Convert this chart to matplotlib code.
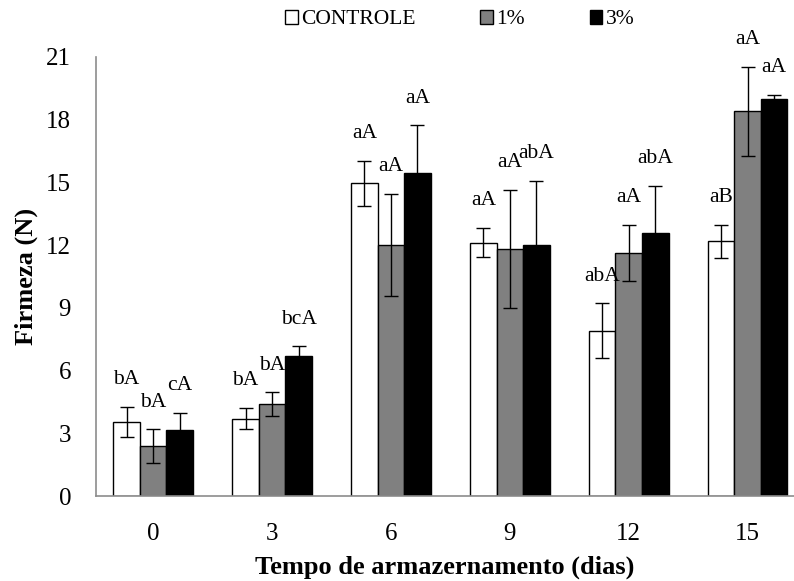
import numpy as np
import matplotlib
matplotlib.use('Agg')
import matplotlib.pyplot as plt

plt.rcParams['font.family'] = ['Liberation Serif', 'DejaVu Serif']

# Dados de firmeza (N) por tempo de armazenamento
dias = ['0', '3', '6', '9', '12', '15']
controle = [3.55, 3.71, 14.96, 12.12, 7.92, 12.19]
um_pct = [2.40, 4.39, 12.00, 11.82, 11.63, 18.41]
tres_pct = [3.18, 6.68, 15.43, 12.00, 12.58, 19.01]

erro_controle = [0.72, 0.52, 1.08, 0.70, 1.30, 0.78]
erro_um = [0.80, 0.57, 2.44, 2.82, 1.35, 2.13]
erro_tres = [0.80, 0.48, 2.30, 3.07, 2.27, 0.19]

letras_controle = ['bA', 'bA', 'aA', 'aA', 'abA', 'aB']
letras_um = ['bA', 'bA', 'aA', 'aA', 'aA', 'aA']
letras_tres = ['cA', 'bcA', 'aA', 'abA', 'abA', 'aA']

series = [
    ('CONTROLE', controle, erro_controle, letras_controle, 'white'),
    ('1%', um_pct, erro_um, letras_um, '#808080'),
    ('3%', tres_pct, erro_tres, letras_tres, 'black'),
]

fig = plt.figure(figsize=(7.94, 5.81), dpi=100)
ax = fig.add_axes([0.121, 0.146, 0.879, 0.756])

x = np.arange(len(dias))
largura = 0.223

for i, (nome, vals, erros, letras, cor) in enumerate(series):
    pos = x + (i - 1) * largura
    ax.bar(pos, vals, largura, color=cor, edgecolor='black', linewidth=1.0,
           label=nome, zorder=2)
    ax.errorbar(pos, vals, yerr=erros, fmt='none', ecolor='black',
                elinewidth=1.0, capsize=5, capthick=1.0, zorder=3)
    for p, v, e, t in zip(pos, vals, erros, letras):
        ax.text(p, v + e + 1.3, t, ha='center', va='center', fontsize=15.5)

ax.set_xlim(-0.48, 5.39)
ax.set_ylim(0, 21)
ax.set_yticks(range(0, 22, 3))
ax.set_xticks(x)
ax.set_xticklabels(dias)
ax.tick_params(axis='y', length=0, labelsize=18, pad=18)
ax.tick_params(axis='x', length=0, labelsize=18, pad=19)

for s in ['top', 'right']:
    ax.spines[s].set_visible(False)
for s in ['left', 'bottom']:
    ax.spines[s].set_color('#8c8c8c')
    ax.spines[s].set_linewidth(1.2)

ax.set_ylabel('Firmeza (N)', fontsize=19, fontweight='bold', labelpad=6)
ax.set_xlabel('Tempo de armazernamento (dias)', fontsize=19,
              fontweight='bold', labelpad=8)

fig.legend(loc='center', bbox_to_anchor=(0.579, 0.966), ncol=3,
           frameon=False, fontsize=15.5, handlelength=0.6, handleheight=0.6,
           handletextpad=0.15, columnspacing=3.0, borderaxespad=0)

fig.savefig('out.png', dpi=100)
